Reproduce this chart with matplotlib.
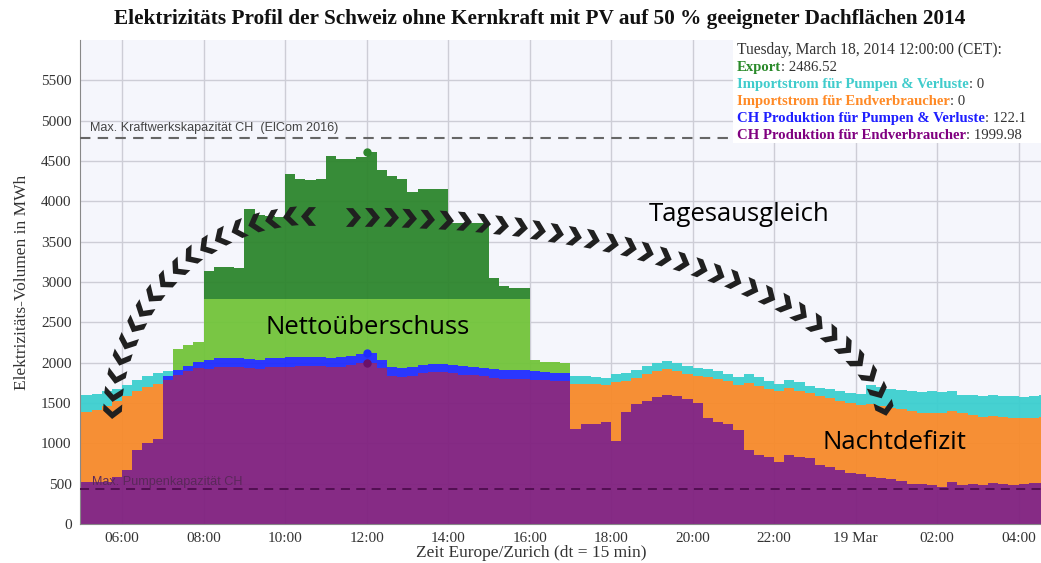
import numpy as np
import pandas as pd
import matplotlib
matplotlib.use("Agg")
import matplotlib.pyplot as plt
import matplotlib.dates as mdates
from matplotlib.path import Path
from matplotlib.markers import MarkerStyle
from matplotlib.transforms import Affine2D
from matplotlib.patches import Rectangle
from matplotlib.ticker import FuncFormatter

# ---- data (MWh per 15 min, 18.03.2014 05:00 .. 19.03.2014 04:30) ----
times = pd.date_range("2014-03-18 05:00", periods=95, freq="15min")

ch_end = [520, 515, 525, 587, 670, 919, 1010, 1051,
          1788, 1850, 1891, 1933,
          1925, 1945, 1945, 1945, 1935, 1920, 1945, 1945,
          1950, 1960, 1962, 1955, 1945, 1950, 1974, 1990,
          1999.98, 1933, 1837, 1821, 1837, 1871, 1879, 1879,
          1871, 1850, 1842, 1829, 1809, 1800, 1796, 1796,
          1788, 1780, 1767, 1767,
          1179, 1241, 1245, 1262, 1034, 1386, 1486, 1527,
          1573, 1601, 1581, 1548, 1498, 1312, 1262, 1237,
          1167, 919, 857, 828, 774, 855, 836, 816,
          732, 703, 670, 637, 621, 587, 567, 554,
          538, 492, 492, 484, 463, 525, 484, 496,
          484, 505, 496, 484, 492, 505, 505]

ch_pump = ([0] * 8 +
           [50, 53, 62, 70,
            105, 110, 108, 108, 112, 110, 112, 112,
            115, 112, 112, 115, 118, 115, 112, 112,
            122.1, 105, 108, 112, 108, 103, 104, 104,
            99, 103, 103, 104, 111, 112, 107, 107,
            103, 103, 104, 104] +
           [0] * 47)

imp_end = ([874, 900, 940, 932, 911, 724, 687, 687] +
           [0] * 40 +
           [559, 493, 489, 464, 721, 389, 323, 331,
            318, 319, 310, 314, 339, 509, 534, 530,
            559, 828, 856, 848, 869, 829, 807, 806,
            849, 857, 849, 861, 856, 903, 902, 882,
            886, 911, 890, 890, 919, 870, 890, 857,
            848, 835, 836, 836, 820, 815, 827])

imp_pump = ([207, 199, 178, 153, 145, 145, 140, 140, 54] +
            [0] * 39 +
            [99, 95, 86, 90, 103, 96, 103, 104,
             104, 95, 104, 100, 96, 104, 104, 91,
             94, 111, 107, 99, 91, 95, 112, 91,
             103, 112, 124, 124, 137, 236, 228, 236,
             240, 240, 249, 269, 249, 248, 227, 248,
             257, 261, 257, 261, 261, 261, 269])

export = ([0] * 9 +
          [265, 261, 248,
           1102, 1125, 1127, 1122, 1860, 1806, 1758, 1743,
           2268, 2207, 2188, 2209, 2502, 2465, 2441, 2446,
           2486.52, 2349, 2375, 2346, 2168, 2173, 2176, 2176,
           1763, 1780, 1788, 1800, 1130, 1034, 1023, 1023,
           145, 120, 132, 124] +
          [0] * 47)

max_kraftwerk = 4785
max_pumpen = 435
surplus_split = 2790
hover_idx = 28

C_PURPLE = "#80207f"
C_BLUE = "#1f2cff"
C_ORANGE = "#f78a2a"
C_CYAN = "#3ccfcf"
C_DKGREEN = "#2d862d"
C_LTGREEN = "#72c43a"
BG = "#f5f6fc"

W, H = 1041, 563
fig = plt.figure(figsize=(W / 100, H / 100), dpi=100)
fig.patch.set_facecolor("white")
ax = fig.add_axes([80 / W, 1 - 524 / H, 961 / W, 484 / H])
ax.set_facecolor(BG)

# step areas (hv), repeat last value so final interval is drawn
x = mdates.date2num(times)
x = np.append(x, x[-1] + 15 / 1440)
ext = lambda a: np.append(np.asarray(a, float), a[-1])
s1 = ext(ch_end)
s2 = s1 + ext(ch_pump)
s3 = s2 + ext(imp_end)
s4 = s3 + ext(imp_pump)
s5 = s4 + ext(export)

kw = dict(step="post", lw=0, alpha=0.95)
ax.fill_between(x, 0, s1, color=C_PURPLE, zorder=2, **kw)
ax.fill_between(x, s1, s2, color=C_BLUE, zorder=2, **kw)
ax.fill_between(x, s2, s3, color=C_ORANGE, zorder=2, **kw)
ax.fill_between(x, s3, s4, color=C_CYAN, zorder=2, **kw)
lt_top = np.minimum(s5, surplus_split)
ax.fill_between(x, s4, np.maximum(lt_top, s4), color=C_LTGREEN, zorder=2, **kw)
dk_low = np.where(s5 > surplus_split, surplus_split, s5)
ax.fill_between(x, dk_low, s5, color=C_DKGREEN, zorder=2, **kw)

# capacity lines
ax.axhline(max_kraftwerk, color="#666666", lw=1.5, ls=(0, (5, 3.5)), zorder=3)
ax.axhline(max_pumpen, color="#4e0d4e", lw=1.3, ls=(0, (5, 3.5)), zorder=3)
t0 = mdates.date2num(pd.Timestamp("2014-03-18 05:13"))
ax.text(t0, max_kraftwerk + 45, "Max. Kraftwerkskapazität CH  (ElCom 2016)",
        fontsize=9.1, color="#444444", family="Liberation Sans", va="bottom", zorder=3)
ax.text(t0 + 2 / 1440, max_pumpen + 85, "Max. Pumpenkapazität CH",
        fontsize=9.1, color="#5a285a", family="Liberation Sans", va="center", zorder=3)

# hover markers at 12:00
th = mdates.date2num(times[hover_idx])
ax.plot([th], [s5[hover_idx]], "o", ms=5, color=C_DKGREEN, zorder=4)
ax.plot([th], [s2[hover_idx]], "o", ms=5, color=C_BLUE, zorder=4)
ax.plot([th], [s1[hover_idx]], "o", ms=5, color="#6a106a", zorder=4)

# axes
ax.set_xlim(mdates.date2num(pd.Timestamp("2014-03-18 04:58")),
            mdates.date2num(pd.Timestamp("2014-03-19 04:33")))
ax.set_ylim(0, 6000)
ax.set_yticks(np.arange(0, 5501, 500))
ax.xaxis.set_major_locator(mdates.HourLocator(byhour=range(0, 24, 2)))


def fmt(v, pos):
    d = mdates.num2date(v)
    return "19 Mar" if d.hour == 0 else d.strftime("%H:%M")


ax.xaxis.set_major_formatter(FuncFormatter(fmt))
ax.grid(True, color="#cdcdd6", lw=1.0, zorder=0)
ax.set_axisbelow(True)
ax.tick_params(length=0, labelsize=11, pad=6)
for lab in ax.get_xticklabels() + ax.get_yticklabels():
    lab.set_family("Liberation Serif")
    lab.set_color("#333333")
for sp in ("top", "right"):
    ax.spines[sp].set_visible(False)
ax.spines["left"].set_color("#888888")
ax.spines["bottom"].set_color("#888888")
ax.set_ylabel("Elektrizitäts-Volumen in MWh", family="Liberation Serif",
              fontsize=12.5, color="#333333")
ax.yaxis.set_label_coords(-50 / 961, 0.5)
ax.set_xlabel("Zeit Europe/Zurich (dt = 15 min)", family="Liberation Serif",
              fontsize=12.5, color="#333333")
ax.xaxis.set_label_coords((531 - 80) / 961, -21 / 484)

fig.text(540 / W, 1 - 19 / H,
         "Elektrizitäts Profil der Schweiz ohne Kernkraft mit PV auf 50 % geeigneter Dachflächen 2014",
         ha="center", va="center", fontsize=15.3, fontweight="bold",
         family="Liberation Serif", color="#111111")

# annotation texts
def hm(s):
    return mdates.date2num(pd.Timestamp(s))


ann_font = "Open Sans"
ax.text(hm("2014-03-18 09:31"), 2433, "Nettoüberschuss", fontsize=18.5,
        family=ann_font, va="center", ha="left", color="black", zorder=5)
ax.text(hm("2014-03-18 18:55"), 3836, "Tagesausgleich", fontsize=18.5,
        family=ann_font, va="center", ha="left", color="black", zorder=5)
ax.text(hm("2014-03-18 23:11"), 1006, "Nachtdefizit", fontsize=18.5,
        family=ann_font, va="center", ha="left", color="black", zorder=5)

# chevron arcs
chev = Path([(-0.4, 0.5), (-0.02, 0.5), (0.4, 0.0), (-0.02, -0.5),
             (-0.4, -0.5), (0.02, 0.0), (-0.4, 0.5)],
            [Path.MOVETO] + [Path.LINETO] * 5 + [Path.CLOSEPOLY])


def chevron_arc(center_t, center_v, a_h, b_v, th0, th1, spacing):
    th = np.radians(np.linspace(th0, th1, 800))
    xs = center_t + a_h / 24 * np.cos(th)
    ys = center_v + b_v * np.sin(th)
    pts = ax.transData.transform(np.column_stack([xs, ys]))
    seg = np.hypot(np.diff(pts[:, 0]), np.diff(pts[:, 1]))
    cum = np.concatenate([[0], np.cumsum(seg)])
    for s in np.arange(0, cum[-1] + 0.1, spacing):
        i = min(np.searchsorted(cum, s), len(cum) - 2)
        dx, dy = pts[i + 1] - pts[i]
        ang = np.degrees(np.arctan2(dy, dx))
        m = MarkerStyle(chev, transform=Affine2D().rotate_deg(ang))
        ax.plot([xs[i]], [ys[i]], marker=m, ms=13.5, color="#202020",
                mec="#202020", mew=0, ls="none", zorder=6)


chevron_arc(hm("2014-03-18 10:34"), 1254, 4.834, 2570, 90, 180, 18.0)
chevron_arc(hm("2014-03-18 11:40"), 1167, 13.104, 2644, 90, 5, 18.5)

# hover box
fig.add_artist(Rectangle((733 / W, 1 - 143 / H), (W - 733) / W, 103 / H,
                         transform=fig.transFigure, facecolor="white",
                         edgecolor="none", zorder=10))
renderer = fig.canvas.get_renderer()
lines = [
    (None, "#333333", "Tuesday, March 18, 2014 12:00:00 (CET):"),
    ("Export", "#2a8a2a", ": 2486.52"),
    ("Importstrom für Pumpen & Verluste", "#40cccc", ": 0"),
    ("Importstrom für Endverbraucher", "#ff8a26", ": 0"),
    ("CH Produktion für Pumpen & Verluste", "#1f1fff", ": 122.1"),
    ("CH Produktion für Endverbraucher", "#800080", ": 1999.98"),
]
for k, (lab, col, rest) in enumerate(lines):
    yy = 1 - (50 + k * 17.1) / H
    xx = 737 / W
    if lab is not None:
        t = fig.text(xx, yy, lab, color=col, fontweight="bold", fontsize=10.6,
                     family="Liberation Serif", va="center", zorder=11)
        xx = t.get_window_extent(renderer).x1 / W
    fig.text(xx, yy, rest, color="#333333", fontsize=10.6 if lab else 11.2,
             family="Liberation Serif", va="center", zorder=11)

fig.savefig("out.png", dpi=100)
